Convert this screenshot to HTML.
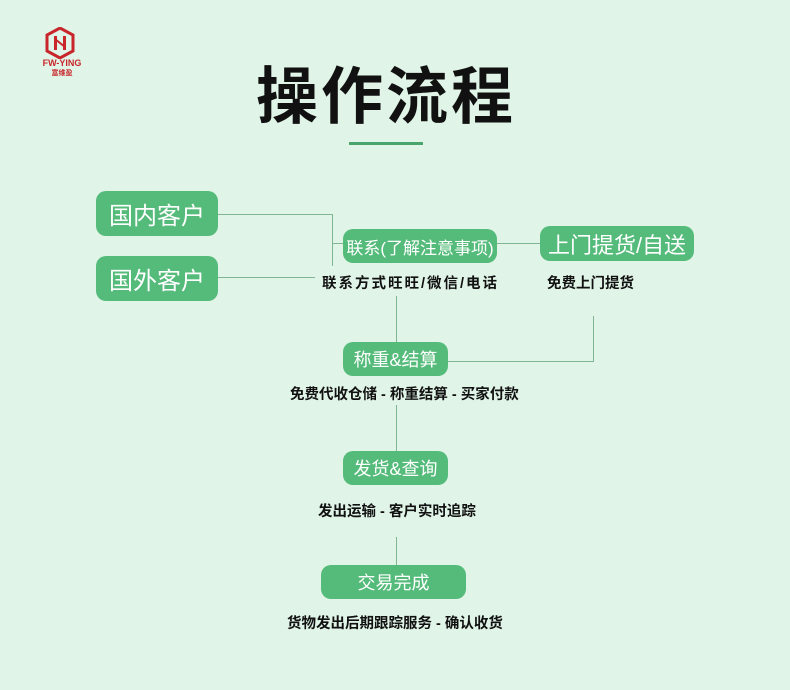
<!DOCTYPE html>
<html><head><meta charset="utf-8"><style>
*{margin:0;padding:0;box-sizing:border-box}
body{width:790px;height:690px;background:#e0f4e7;position:relative;overflow:hidden;font-family:"Liberation Sans","Noto Sans CJK SC",sans-serif}
.b{position:absolute;background:#55bb7a;color:#fff;border-radius:10px;display:flex;align-items:center;justify-content:center;white-space:nowrap}
.t{position:absolute;font-weight:bold;font-size:14.5px;color:#111;white-space:nowrap}
.l{position:absolute;background:#7fb593}
</style></head><body>
<svg style="position:absolute;left:45px;top:27px" width="30" height="32" viewBox="0 0 30 32"><polygon points="15,1 28,8 28,24 15,31 2,24 2,8" fill="none" stroke="#c8262b" stroke-width="3"/><rect x="9" y="9" width="3" height="14" fill="#c8262b"/><rect x="18" y="9" width="3" height="14" fill="#c8262b"/><line x1="10" y1="12" x2="20" y2="20" stroke="#c8262b" stroke-width="2"/></svg>
<div style="position:absolute;left:36px;top:58px;width:52px;text-align:center;font-size:9px;font-weight:bold;color:#c8262b">FW-YING</div>
<div style="position:absolute;left:36px;top:68px;width:52px;text-align:center;font-size:7px;font-weight:bold;color:#c8262b">富维盈</div>
<div style="position:absolute;left:256px;top:46px;font-size:62px;font-weight:bold;color:#111;letter-spacing:3px">操作流程</div>
<div style="position:absolute;left:349px;top:142px;width:74px;height:3px;background:#4aa56c"></div>

<div class="l" style="left:218px;top:214px;width:115px;height:1px"></div>
<div class="l" style="left:332px;top:214px;width:1px;height:52px"></div>
<div class="l" style="left:332px;top:243px;width:12px;height:1px"></div>
<div class="l" style="left:218px;top:277px;width:97px;height:1px"></div>
<div class="l" style="left:497px;top:243px;width:44px;height:1px"></div>
<div class="l" style="left:396px;top:296px;width:1px;height:47px"></div>
<div class="l" style="left:448px;top:361px;width:146px;height:1px"></div>
<div class="l" style="left:593px;top:316px;width:1px;height:46px"></div>
<div class="l" style="left:396px;top:405px;width:1px;height:47px"></div>
<div class="l" style="left:396px;top:537px;width:1px;height:28px"></div>

<div class="b" style="left:96px;top:191px;width:122px;height:45px;font-size:24px">国内客户</div>
<div class="b" style="left:96px;top:256px;width:122px;height:45px;font-size:24px">国外客户</div>
<div class="b" style="left:343px;top:229px;width:154px;height:34px;font-size:17px">联系(了解注意事项)</div>
<div class="b" style="left:540px;top:226px;width:154px;height:35px;font-size:22px">上门提货/自送</div>
<div class="t" style="left:322px;top:272px;letter-spacing:2px">联系方式旺旺/微信/电话</div>
<div class="t" style="left:547px;top:272px">免费上门提货</div>
<div class="b" style="left:343px;top:342px;width:105px;height:34px;font-size:18px">称重&amp;结算</div>
<div class="t" style="left:290px;top:383px">免费代收仓储 - 称重结算 - 买家付款</div>
<div class="b" style="left:343px;top:451px;width:105px;height:34px;font-size:18px">发货&amp;查询</div>
<div class="t" style="left:318px;top:500px">发出运输 - 客户实时追踪</div>
<div class="b" style="left:321px;top:565px;width:145px;height:34px;font-size:18px">交易完成</div>
<div class="t" style="left:287px;top:612px">货物发出后期跟踪服务 - 确认收货</div>
</body></html>
